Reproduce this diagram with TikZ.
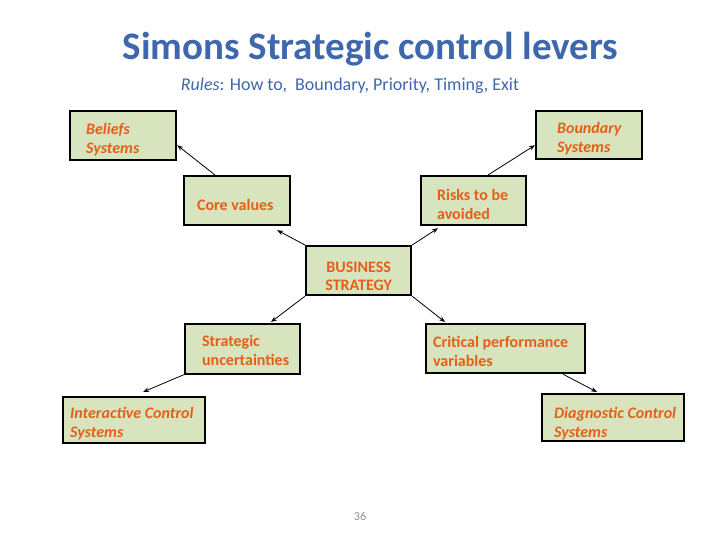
\documentclass[tikz,border=0pt]{standalone}
\usepackage{fontspec}
\setmainfont{Carlito}
\usetikzlibrary{arrows.meta,calc}

\definecolor{titleblue}{HTML}{3E67AD}
\definecolor{boxfill}{HTML}{D7E4BD}
\definecolor{boxtext}{HTML}{E65F18}
\definecolor{pagegray}{HTML}{8C8C8C}

% inset, box width, box height, first baseline below top, lines
\newcommand{\lvtext}[5]{%
  \hspace*{#1pt}\parbox[c][#3pt][t]{\dimexpr #2pt-#1pt\relax}{%
    \raggedright\baselineskip=19.2pt\rule{0pt}{#4pt}#5\par}}
\newcommand{\lvcentre}[4]{%
  \parbox[c][#2pt][t]{#1pt}{%
    \centering\baselineskip=18.5pt\rule{0pt}{#3pt}#4\par}}

\tikzset{
  lever/.style={draw=black, line width=2.2pt, fill=boxfill, inner sep=0pt,
    anchor=north west, text=boxtext, font=\fontsize{16}{19.2}\selectfont\bfseries},
  system/.style={lever, font=\fontsize{16}{19.2}\selectfont\bfseries\itshape},
  conn/.style={draw=black, line width=0.8pt, -{Stealth[length=6pt,width=4.6pt]}}
}

\begin{document}
\begin{tikzpicture}[x=1pt,y=-1pt]
\useasboundingbox (0,0) rectangle (720,540);

% headings
\node[anchor=base, text=titleblue, inner sep=0pt,
      font=\fontsize{39}{47}\selectfont\bfseries] (title) at (370.5,60)
  {Simons Strategic control levers};
\node[anchor=base, text=titleblue, inner sep=0pt,
      font=\fontsize{18}{21}\selectfont] (rules) at (350,91)
  {\textit{Rules}: How to,\ \ Boundary, Priority, Timing, Exit};

% the four control systems
\node[system] (beliefs) at (69,110) {\lvtext{16}{106}{49}{23}{Beliefs\\Systems}};
\node[system] (boundary) at (535,110) {\lvtext{21}{106}{48}{22}{Boundary\\Systems}};
\node[system] (interactive) at (62,396) {\lvtext{7}{142}{46}{21}{Interactive Control\\Systems}};
\node[system] (diagnostic) at (541,393) {\lvtext{12}{142}{47}{24}{Diagnostic Control\\Systems}};

% levers around the strategy
\node[lever] (core) at (183,175) {\lvtext{13}{106}{49}{34}{Core values}};
\node[lever] (risks) at (420,175) {\lvtext{16}{105}{49}{24}{Risks to be\\avoided}};
\node[lever] (strategic) at (184,323) {\lvtext{17}{115}{50}{22}{Strategic\\uncertainties}};
\node[lever] (critical) at (425,323) {\lvtext{7}{159}{49}{23}{Critical performance\\variables}};

% centre
\node[lever] (business) at (305,245)
  {\lvcentre{105}{49}{26}{BUSINESS\\STRATEGY}};

% connectors
\draw[conn] (business.north west) -- ($(core.south east)+(-14,4)$);
\draw[conn] (business.north east) -- ($(risks.south west)+(18,2)$);
\draw[conn] (business.south west) -- ($(strategic.north west)+(87,-1)$);
\draw[conn] (business.south east) -- ($(critical.north west)+(20,-1)$);
\draw[conn] ($(core.north west)+(32,0)$) -- ($(beliefs.south east)+(0,-16)$);
\draw[conn] ($(risks.north west)+(68,0)$) -- ($(boundary.south west)+(0,-15)$);
\draw[conn] ($(strategic.south west)+(1,-1)$) -- ($(interactive.north west)+(81,-4)$);
\draw[conn] ($(critical.south west)+(138,0)$) -- ($(diagnostic.north west)+(56,-1)$);

% slide number
\node[anchor=base, text=pagegray, inner sep=0pt,
      font=\fontsize{12}{14}\selectfont] (page) at (360,520) {36};
\end{tikzpicture}
\end{document}
